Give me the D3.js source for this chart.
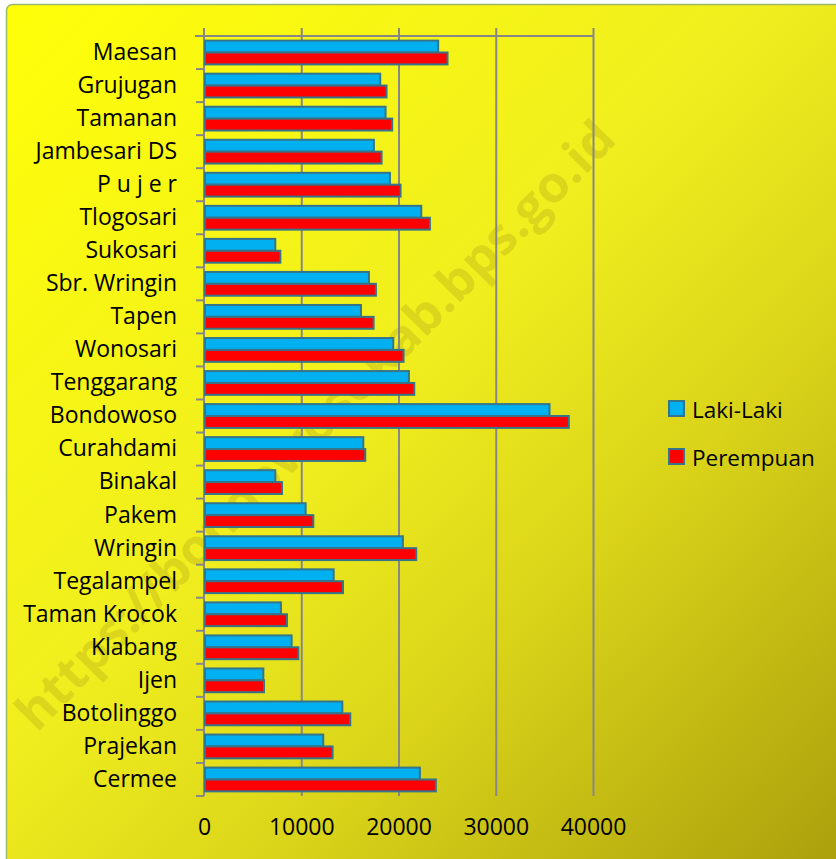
<!DOCTYPE html>
<html>
<head>
<meta charset="utf-8">
<script src="https://cdn.jsdelivr.net/npm/d3@7"></script>
<style>
  html, body { margin: 0; padding: 0; background: #ffffff; }
  svg { display: block; }
</style>
</head>
<body>
<svg id="chart" width="836" height="859"></svg>
<script>
const categories = ["Maesan","Grujugan","Tamanan","Jambesari DS","P u j e r","Tlogosari","Sukosari","Sbr. Wringin","Tapen","Wonosari","Tenggarang","Bondowoso","Curahdami","Binakal","Pakem","Wringin","Tegalampel","Taman Krocok","Klabang","Ijen","Botolinggo","Prajekan","Cermee"];
const lakiLaki = [24080,18120,18670,17470,19120,22340,7330,16960,16140,19460,21070,35530,16380,7330,10450,20450,13330,7910,9010,6100,14220,12260,22200];
const perempuan = [25040,18770,19350,18260,20210,23230,7850,17680,17440,20520,21620,37510,16580,8020,11240,21820,14290,8530,9700,6170,15040,13220,23840];
const seriesNames = ["Laki-Laki","Perempuan"];
const seriesColors = ["#00B0F0","#FF0000"];
const xTicks = [0,10000,20000,30000,40000];
const watermark = "https://bondowosokab.bps.go.id";

const FONT = "'Open Sans', sans-serif";
const svg = d3.select("#chart");
const defs = svg.append("defs");
const grad = defs.append("linearGradient").attr("id","bg")
  .attr("gradientUnits","userSpaceOnUse")
  .attr("x1",0).attr("y1",0).attr("x2",836).attr("y2",859);
[[0,"#FFFF08"],[0.45,"#F0EE1E"],[0.66,"#DCD61A"],[1,"#ACA00C"]].forEach(([o,c]) =>
  grad.append("stop").attr("offset",o).attr("stop-color",c));

// chart area
svg.append("rect").attr("x",6.5).attr("y",4.5).attr("width",840).attr("height",870)
  .attr("rx",6).attr("fill","url(#bg)").attr("stroke","#9DB86A").attr("stroke-width",1.5);

const x = d3.scaleLinear().domain([0,40000]).range([204,593]);
const y = d3.scaleBand().domain(categories).range([36,796]).paddingInner(0.28).paddingOuter(0.14);
const ySub = d3.scaleBand().domain(seriesNames).range([0,y.bandwidth()]);

// watermark
svg.append("text")
  .attr("transform","translate(318,428) rotate(-45.5)")
  .attr("text-anchor","middle").attr("dominant-baseline","middle")
  .attr("font-family",FONT).attr("font-weight","bold").attr("font-size",50)
  .attr("textLength",830).attr("lengthAdjust","spacingAndGlyphs")
  .attr("fill","rgba(110,95,20,0.16)")
  .text(watermark);

// gridlines
const gridColor = "#878787";
svg.append("g").attr("transform","translate(0,796)")
  .call(d3.axisBottom(x).tickValues(xTicks.slice(1)).tickSize(-768).tickFormat(""))
  .call(g => g.select(".domain").remove())
  .call(g => g.selectAll("line").attr("stroke",gridColor).attr("stroke-width",2));

// top horizontal line
svg.append("line").attr("x1",195).attr("x2",x(40000)).attr("y1",36).attr("y2",36)
  .attr("stroke",gridColor).attr("stroke-width",2);

// category axis line
svg.append("line").attr("x1",x(0)).attr("x2",x(0)).attr("y1",28).attr("y2",796)
  .attr("stroke",gridColor).attr("stroke-width",2);

// category boundary ticks
const bounds = d3.range(categories.length + 1).map(i => y.range()[0] + i * y.step());
svg.append("g").selectAll("line").data(bounds).join("line")
  .attr("x1",196).attr("x2",x(0)).attr("y1",d=>d).attr("y2",d=>d)
  .attr("stroke",gridColor).attr("stroke-width",2);

// bars
const data = categories.map((c,i) => ({cat:c, vals:[lakiLaki[i], perempuan[i]]}));
const groups = svg.append("g").selectAll("g").data(data).join("g")
  .attr("transform", d => `translate(0,${y(d.cat)})`);
groups.selectAll("rect").data(d => d.vals.map((v,j) => ({v, s:seriesNames[j], c:seriesColors[j]})))
  .join("rect")
  .attr("x", x(0)+1)
  .attr("y", d => ySub(d.s))
  .attr("width", d => x(d.v) - x(0) - 1)
  .attr("height", ySub.bandwidth())
  .attr("fill", d => d.c)
  .attr("stroke","#357489").attr("stroke-width",2);

// category labels
svg.append("g").attr("transform",`translate(${x(0)},0)`)
  .call(d3.axisLeft(y).tickSize(0).tickPadding(27))
  .call(g => g.select(".domain").remove())
  .call(g => g.selectAll("text").attr("font-family",FONT).attr("font-size",23).attr("fill","#000"));

// value labels
svg.append("g").attr("transform","translate(0,813)")
  .call(d3.axisBottom(x).tickValues(xTicks).tickSize(0).tickPadding(6).tickFormat(d3.format("d")))
  .call(g => g.select(".domain").remove())
  .call(g => g.selectAll("text").attr("font-family",FONT).attr("font-size",23).attr("fill","#000"));

// legend
const legend = svg.append("g").selectAll("g").data(seriesNames).join("g")
  .attr("transform",(d,i) => `translate(669,${401 + i*48})`);
legend.append("rect").attr("width",15).attr("height",15)
  .attr("fill",(d,i)=>seriesColors[i]).attr("stroke","#357489").attr("stroke-width",2);
legend.append("text").attr("x",23).attr("y",8).attr("dominant-baseline","central")
  .attr("font-family",FONT).attr("font-size",22.5).attr("fill","#000").text(d=>d);
</script>
</body>
</html>
